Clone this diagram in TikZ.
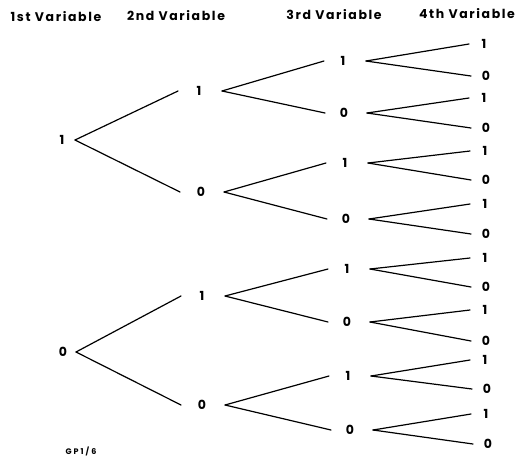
\documentclass[tikz,border=0pt]{standalone}
\usepackage{fontspec}
\setmainfont{Poppins}
\begin{document}
\begin{tikzpicture}[x=1pt,y=-1pt,
  lab/.style={inner sep=0pt,font=\bfseries\fontsize{12.5}{12.5}\selectfont},
  head/.style={inner sep=0pt,font=\bfseries\fontsize{12.5}{12.5}\selectfont\addfontfeatures{LetterSpace=13}},
  branch/.style={line width=1.2pt,line cap=round}]
\useasboundingbox (0,0) rectangle (519,461);
% column headings
\node[head] (h1) at (56,17) {1st Variable};
\node[head] (h2) at (176,16) {2nd Variable};
\node[head] (h3) at (334,15) {3rd Variable};
\node[head] (h4) at (467,14) {4th Variable};
% first variable
\node[lab] (a1) at (62,140) {1};
\node[lab] (a0) at (63,352) {0};
% second variable
\node[lab] (b1) at (199,91) {1};
\node[lab] (b2) at (201,192) {0};
\node[lab] (b3) at (202,296) {1};
\node[lab] (b4) at (202,405) {0};
% third variable
\foreach \i/\x/\y/\t in {1/343/61/1,2/344/113/0,3/345/163/1,4/346/219/0,
                         5/347/269/1,6/347/322/0,7/348/376/1,8/350/430/0}
  \node[lab] (c\i) at (\x,\y) {\t};
% fourth variable
\foreach \i/\x/\y/\t in {1/484/44/1,2/486/76/0,3/484/98/1,4/486/128/0,
                         5/485/151/1,6/486/180/0,7/485/204/1,8/486/234/0,
                         9/485/258/1,10/486/287/0,11/485/310/1,12/486/341/0,
                         13/485/360/1,14/487/389/0,15/486/414/1,16/488/444/0}
  \node[lab] (d\i) at (\x,\y) {\t};
% branches: first to second
\foreach \p/\c in {a1/b1,a1/b2,a0/b3,a0/b4}
  \draw[branch] ([xshift=13pt]\p.center) -- ([xshift=-21pt]\c.center);
% second to third
\foreach \p/\c in {b1/c1,b1/c2,b2/c3,b2/c4,b3/c5,b3/c6,b4/c7,b4/c8}
  \draw[branch] ([xshift=23pt]\p.center) -- ([xshift=-19pt]\c.center);
% third to fourth
\foreach \p/\c in {c1/d1,c1/d2,c2/d3,c2/d4,c3/d5,c3/d6,c4/d7,c4/d8,
                   c5/d9,c5/d10,c6/d11,c6/d12,c7/d13,c7/d14,c8/d15,c8/d16}
  \draw[branch] ([xshift=23pt]\p.center) -- ([xshift=-15pt]\c.center);
% figure code
\node[inner sep=0pt,font=\bfseries\fontsize{8}{8}\selectfont\addfontfeatures{LetterSpace=25}] (code) at (81,451) {GP1/6};
\end{tikzpicture}
\end{document}
